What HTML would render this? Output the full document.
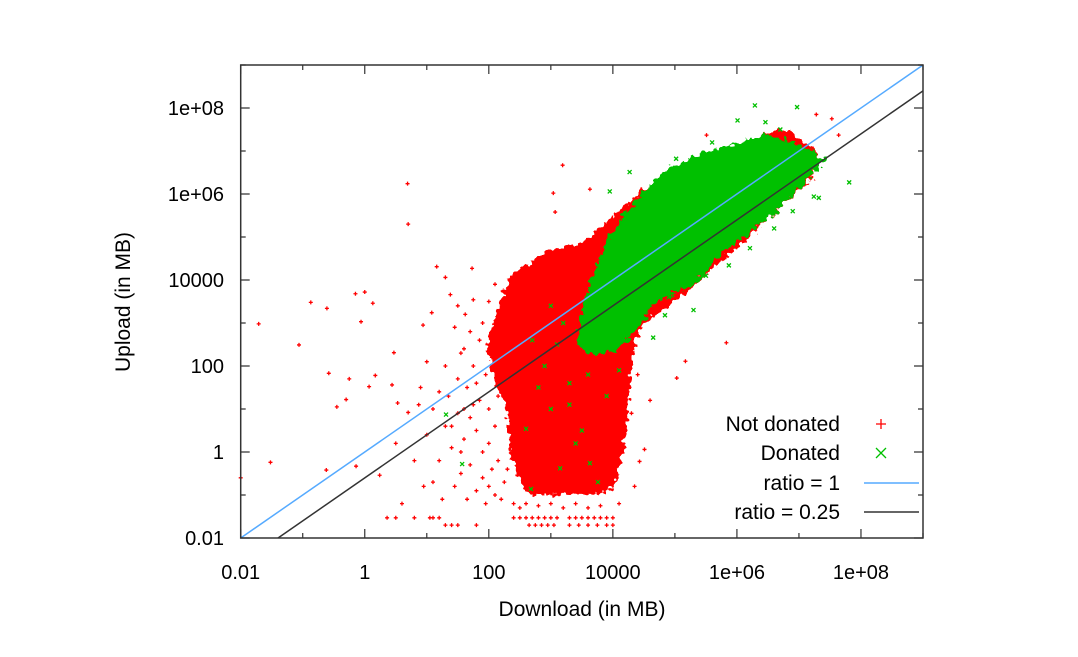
<!DOCTYPE html>
<html><head><meta charset="utf-8"><style>
html,body{margin:0;padding:0;background:#fff;}
svg text{font-family:"Liberation Sans",Arial,sans-serif;fill:#000;}
</style></head><body>
<svg id="chart" width="1078" height="652" viewBox="0 0 1078 652" xmlns="http://www.w3.org/2000/svg">
<defs>
<filter id="rough" x="-10%" y="-10%" width="120%" height="120%">
<feTurbulence type="fractalNoise" baseFrequency="0.18" numOctaves="2" seed="3" result="n"/>
<feDisplacementMap in="SourceGraphic" in2="n" scale="12" xChannelSelector="R" yChannelSelector="G"/>
</filter>
</defs>
<g id="marks"></g>
<g id="axes"></g>
<text x="130" y="302" font-size="21" text-anchor="middle" transform="rotate(-90 130 302)">Upload (in MB)</text>
<text x="582" y="616" font-size="21" text-anchor="middle">Download (in MB)</text>
<g>
<text x="840" y="431" font-size="21" text-anchor="end">Not donated</text>
<text x="840" y="460" font-size="21" text-anchor="end">Donated</text>
<text x="840" y="490" font-size="21" text-anchor="end">ratio = 1</text>
<text x="840" y="519" font-size="21" text-anchor="end">ratio = 0.25</text>
<path d="M876 424h10M881 419v10" stroke="#ff0000" stroke-width="1.3"/>
<path d="M876 448l10 10M886 448l-10 10" stroke="#00c000" stroke-width="1.3"/>
<line x1="864" y1="483" x2="919" y2="483" stroke="#55aaff" stroke-width="1.5"/>
<line x1="864" y1="512" x2="919" y2="512" stroke="#333" stroke-width="1.5"/>
</g>
</svg>
<script>
const xTicks=[-2,0,2,4,6,8];
const xTickLabels=["0.01","1","100","10000","1e+06","1e+08"];
const yTicks=[-2,0,2,4,6,8];
const yTickLabels=["0.01","1","100","10000","1e+06","1e+08"];
const ratios=[1,0.25];
// dense cloud outlines (log10 download, log10 upload)
const redCoreHull=[[6.78,7.5],[5.72,7.0],[4.96,6.5],[4.5,6.06],[4.05,5.5],[3.74,5.1],[3.44,4.78],[3.02,4.7],[2.68,4.38],[2.37,4.1],[2.22,3.5],[2.07,2.86],[1.99,2.38],[2.14,1.58],[2.3,1.1],[2.37,-0.02],[2.52,-0.7],[2.68,-0.95],[3.89,-0.95],[4.05,-0.6],[4.2,0.62],[4.24,1.58],[4.31,2.38],[4.43,2.94],[4.96,3.5],[5.72,4.46],[6.48,5.42],[7.2,6.4],[7.3,6.9]];
const greenCoreHull=[[7.1,7.05],[6.48,7.35],[5.72,7.05],[4.96,6.6],[4.58,6.14],[4.2,5.5],[3.89,4.78],[3.67,3.98],[3.5,3.18],[3.45,2.5],[3.67,2.3],[4.05,2.4],[4.35,2.86],[4.65,3.5],[5.34,3.98],[5.72,4.62],[6.48,5.42],[7.05,6.22],[7.4,6.8]];
const redPoints=[[-1.71,2.98],[-1.52,-0.24],[-1.06,2.49],[-0.87,3.48],[-0.61,3.34],[-0.58,1.83],[-0.45,1.05],[-0.3,1.22],[-0.25,1.7],[-0.15,3.68],[-0.06,3.03],[0,3.72],[0.13,3.46],[0.07,1.52],[0.17,1.78],[0.44,1.56],[0.47,2.31],[0.69,6.24],[0.7,5.3],[0.53,1.14],[0.7,0.92],[0.87,1.1],[0.94,2.95],[1.08,3.24],[1.16,4.31],[1.3,4.06],[1.38,3.66],[1.73,4.27],[1.75,3.54],[3.19,6.67],[3.04,6.02],[3.07,5.58],[3.63,6.11],[5.83,2.54],[5.17,2.11],[5.03,1.72],[4.51,0.06],[4.43,-0.22],[5.51,7.37],[7.53,7.75],[7.64,7.37],[7.28,7.85],[-0.14,-0.33],[0.24,-0.54],[-0.62,-0.42],[-2,-0.6],[0.5,0.2],[0.8,-0.2],[1.0,0.4],[1.1,-0.7],[1.2,1.4],[1.3,2.0],[1.4,0.1],[1.5,1.7],[1.55,-0.5],[1.6,2.4],[1.7,0.8],[1.8,-0.9],[1.85,1.2],[1.9,3.0],[2.0,0.2],[2.05,-0.4],[2.1,-1.0],[1.45,2.9],[1.62,3.2],[1.25,-1.1],[0.95,-0.8],[0.6,-1.2],
[0.9,1.5],[1.0,2.1],[1.1,1.0],[1.2,-0.2],[1.3,0.6],[1.35,1.3],[1.45,-0.8],[1.5,0.9],[1.55,2.3],[1.6,0.3],[1.65,1.5],[1.7,-0.3],[1.75,2.0],[1.8,0.5],[1.85,2.6],[1.9,-0.6],[1.95,1.8],[2.0,1.0],[2.05,2.2],[2.1,0.6],[2.15,-0.2],[2.2,1.9],[2.25,-0.7],[1.65,-1.1],[1.95,-1.2],[2.2,-1.1],[1.4,0.6],[1.55,0.0],[1.75,1.1],[1.9,0.0],[2.0,-0.8],[2.15,1.3],[2.3,-0.4],[1.6,1.0],[1.8,1.6],[1.7,2.8],[1.5,3.4],[2.0,3.5],[2.1,3.9],[4.35,-0.8],[4.3,3.3],[4.6,1.2],
[0.36,-1.53],[0.5,-1.53],[0.8,-1.53],[1.05,-1.53],[1.1,-1.53],[1.2,-1.53],[2.4,-1.53],[2.5,-1.53],[2.6,-1.53],[2.7,-1.53],[2.8,-1.53],[2.9,-1.53],[3.0,-1.53],[3.1,-1.53],[3.3,-1.53],[3.4,-1.53],[3.5,-1.53],[3.6,-1.53],[3.7,-1.53],[3.8,-1.53],[3.9,-1.53],[4.0,-1.53],[1.3,-1.7],[1.4,-1.7],[1.5,-1.7],[1.8,-1.7],[2.65,-1.7],[2.75,-1.7],[2.85,-1.7],[2.95,-1.7],[3.05,-1.7],[3.3,-1.7],[3.45,-1.7],[3.6,-1.7],[3.75,-1.7],[3.9,-1.7],[4.0,-1.7],[2.5,-1.3],[3.2,-1.3],[3.6,-1.3],[4.1,-1.2],[4.3,0.9],[4.4,1.8],[2.4,-1.2],[2.6,-1.2],[2.8,-1.25],[3.0,-1.2],[3.4,-1.2],[3.8,-1.25]];
const greenPoints=[[6.29,8.06],[6.97,8.02],[6.01,7.71],[6.46,7.67],[7.81,6.27],[7.24,5.94],[7.32,5.91],[5.02,6.82],[5.25,6.78],[4.27,6.51],[3.95,6.06],[6.21,4.74],[5.87,4.34],[5.3,3.3],[4.84,3.18],[4.65,2.66],[1.31,0.87],[1.57,-0.28],[3.15,-0.38],[3.63,-0.26],[3.76,-0.7],[2.68,-0.86],[2.6,0.54],[3.0,1.0],[3.3,1.6],[3.5,0.5],[2.9,2.0],[3.2,3.0],[4.6,5.9],[5.6,7.2],[6.7,7.5],[7.1,6.6],[6.9,5.6],[6.6,5.2],[5.5,4.1],[4.9,3.6],[3.1,2.5],[3.3,1.1],[2.8,1.5],[3.6,1.8],[3.4,0.2],[3.9,1.3],[4.1,1.9],[2.7,2.6],[3.0,3.4]];
const L=240.7,R=923,T=65,B=538,xmin=-2,xmax=9,ymin=-2,ymax=9;
function sx(v){return L+(v-xmin)/(xmax-xmin)*(R-L);}
function sy(v){return B-(v-ymin)/(ymax-ymin)*(B-T);}
const NS="http://www.w3.org/2000/svg";
const marks=document.getElementById('marks'),axes=document.getElementById('axes');
function mk(tag,attrs,parent){const e=document.createElementNS(NS,tag);for(const k in attrs)e.setAttribute(k,attrs[k]);parent.appendChild(e);return e;}
function hull(pts,color,name){
  const p=mk('polygon',{points:pts.map(q=>sx(q[0])+','+sy(q[1])).join(' '),fill:color,stroke:color,'stroke-width':3,'stroke-linejoin':'round',filter:'url(#rough)'},marks);
  
  
}
hull(redCoreHull,'#ff0000','red-dense-cloud');
redPoints.forEach(q=>{const x=sx(q[0]),y=sy(q[1]);
  const p=mk('path',{d:`M${x-2} ${y}h4M${x} ${y-2}v4`,stroke:'#ff0000','stroke-width':1.3},marks);
  
  });
hull(greenCoreHull,'#00c000','green-dense-cloud');
greenPoints.forEach(q=>{const x=sx(q[0]),y=sy(q[1]);
  const p=mk('path',{d:`M${x-2} ${y-2}l4 4M${x+2} ${y-2}l-4 4`,stroke:'#00c000','stroke-width':1.3},marks);
  
  });
const cols=['#55aaff','#333333'];
ratios.forEach((r,i)=>{const lr=Math.log10(r);
  let x0=xmin,y0=xmin+lr; if(y0<ymin){x0=ymin-lr;y0=ymin;}
  let x1=xmax,y1=xmax+lr; if(y1>ymax){x1=ymax-lr;y1=ymax;}
  const l=mk('line',{x1:sx(x0),y1:sy(y0),x2:sx(x1),y2:sy(y1),stroke:cols[i],'stroke-width':1.5},marks);
  
  });
const f=mk('rect',{x:L,y:T,width:R-L,height:B-T,fill:'none',stroke:'#333','stroke-width':1.5},axes);


for(let d=xmin;d<=xmax;d++){const x=sx(d),len=(d%2===0)?9:5;
  const t=mk('path',{d:`M${x} ${B}v${-len}M${x} ${T}v${len}`,stroke:'#333','stroke-width':1.2},axes);
  
  }
for(let d=ymin;d<=ymax;d++){const y=sy(d),len=(d%2===0)?9:5;
  const t=mk('path',{d:`M${L} ${y}h${len}M${R} ${y}h${-len}`,stroke:'#333','stroke-width':1.2},axes);
  
  }
xTicks.forEach((v,i)=>{const t=mk('text',{x:sx(v),y:579,'font-size':20,'text-anchor':'middle'},axes);t.textContent=xTickLabels[i];
  
  });
yTicks.forEach((v,i)=>{const t=mk('text',{x:224,y:sy(v)+7,'font-size':20,'text-anchor':'end'},axes);t.textContent=yTickLabels[i];
  
  });
</script>
</body></html>
